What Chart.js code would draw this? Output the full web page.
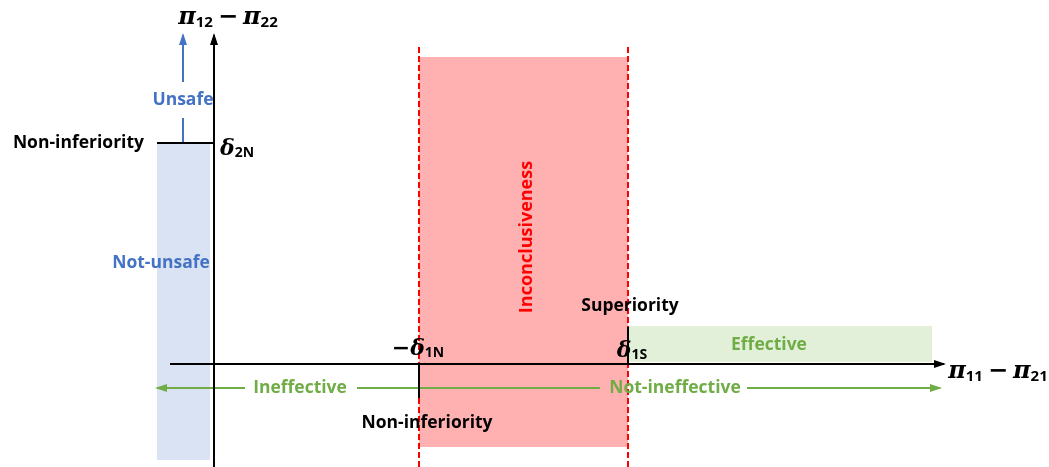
<!DOCTYPE html>
<html lang="en">
<head>
<meta charset="UTF-8">
<title>Decision regions</title>
<script src="https://cdn.jsdelivr.net/npm/chart.js@4.4.1/dist/chart.umd.min.js"></script>
<style>
  body { margin: 0; background: #fff; }
  #wrap { width: 1049px; height: 467px; }
</style>
</head>
<body>
<div id="wrap"><canvas id="diagram" width="1049" height="467"></canvas></div>
<script>
// margins on each axis (units along the difference axes, origin = 0)
const marginX = [2.05, 4.14];          // -delta1N , delta1S
const marginY = [2.21];                // delta2N
const axisXRange = [-0.44, 7.30];
const axisYRange = [-1.03, 3.29];

// shaded regions
const regionNames = ['Not-unsafe', 'Inconclusiveness', 'Effective'];
const regionX = [[-0.57, -0.04], [2.05, 4.14], [4.14, 7.18]];
const regionY = [[-0.96, 2.21], [-0.83, 3.07], [0.02, 0.38]];

// decision arrows below the x axis (ineffective / not-ineffective)
const greenArrowY = -0.24;
const ineffectiveX = [0.31, -0.57];
const notIneffLineX = [1.43, 3.86];
const notIneffArrowX = [5.33, 7.26];
// unsafe arrow above delta2N
const unsafeX = -0.31;
const unsafeLowY = [2.21, 2.46];
const unsafeHighY = [2.82, 3.29];

const BLUE = '#4472c4', GREEN = '#70ad47', RED = '#ff0000';

function seg(x0, y0, x1, y1) { return [{x: x0, y: y0}, {x: x1, y: y1}]; }

function lineSet(data, color, width, extra) {
  return Object.assign({
    data: data, showLine: true, borderColor: color, borderWidth: width,
    pointRadius: 0, fill: false, order: 0
  }, extra || {});
}

function regionSet(i, color) {
  return {
    label: regionNames[i],
    data: seg(regionX[i][0], regionY[i][1], regionX[i][1], regionY[i][1]),
    showLine: true, borderWidth: 0, borderColor: 'rgba(0,0,0,0)',
    backgroundColor: color, pointRadius: 0,
    fill: {value: regionY[i][0]}, order: 10
  };
}

// arrow heads on datasets flagged with arrow:true
const arrowHeads = {
  id: 'arrowHeads',
  afterDatasetsDraw(chart) {
    const ctx = chart.ctx;
    chart.data.datasets.forEach((ds, i) => {
      if (!ds.arrow) return;
      const pts = chart.getDatasetMeta(i).data;
      const a = pts[pts.length - 2], b = pts[pts.length - 1];
      const ang = Math.atan2(b.y - a.y, b.x - a.x);
      const len = 10, half = 4;
      ctx.save();
      ctx.translate(b.x, b.y);
      ctx.rotate(ang);
      ctx.fillStyle = ds.borderColor;
      ctx.beginPath();
      ctx.moveTo(2, 0);
      ctx.lineTo(-len, -half);
      ctx.lineTo(-len, half);
      ctx.closePath();
      ctx.fill();
      ctx.restore();
    });
  }
};

// text: plain labels + math labels with subscripts
const textPlugin = {
  id: 'textLabels',
  afterDatasetsDraw(chart, args, opts) {
    const ctx = chart.ctx, sx = chart.scales.x, sy = chart.scales.y;
    const sans = '"Open Sans", "Noto Sans", sans-serif';
    const serif = '"DejaVu Serif", serif';
    ctx.save();
    ctx.textBaseline = 'middle';
    opts.plain.forEach(l => {
      ctx.save();
      ctx.translate(sx.getPixelForValue(l.x), sy.getPixelForValue(l.y));
      if (l.rot) ctx.rotate(l.rot);
      ctx.font = 'bold ' + (l.size || 17.5) + 'px ' + sans;
      ctx.fillStyle = l.color || '#000';
      ctx.textAlign = l.align || 'center';
      ctx.fillText(l.text, 0, 0);
      ctx.restore();
    });
    opts.math.forEach(m => {
      const fontOf = p => p.sub ? 'bold ' + Math.round(m.size * 0.62) + 'px ' + sans
        : p.op ? 'bold ' + m.size + 'px ' + serif
        : 'italic bold ' + m.size + 'px ' + serif;
      const gap = p => p.gap || 0;
      let w = 0;
      m.parts.forEach(p => {
        ctx.font = fontOf(p);
        w += ctx.measureText(p.t).width + 2 * gap(p);
      });
      let px = sx.getPixelForValue(m.x);
      if (m.align !== 'left') px -= w / 2;
      const py = sy.getPixelForValue(m.y);
      ctx.fillStyle = '#000';
      ctx.textAlign = 'left';
      m.parts.forEach(p => {
        ctx.font = fontOf(p);
        ctx.fillText(p.t, px + gap(p), py + (p.sub ? m.size * 0.2 : 0));
        px += ctx.measureText(p.t).width + 2 * gap(p);
      });
    });
    ctx.restore();
  }
};

const datasets = [
  regionSet(0, 'rgb(218,227,243)'),
  regionSet(1, 'rgb(255,176,176)'),
  regionSet(2, 'rgb(226,240,217)'),
  // axes
  lineSet(seg(axisXRange[0], 0, axisXRange[1], 0), '#000', 2, {arrow: true}),
  lineSet(seg(0, axisYRange[0], 0, axisYRange[1]), '#000', 2, {arrow: true}),
  // margin ticks
  lineSet(seg(regionX[0][0], marginY[0], 0, marginY[0]), '#000', 2),
  lineSet(seg(marginX[0], 0, marginX[0], -0.34), '#000', 2),
  lineSet(seg(marginX[1], 0, marginX[1], 0.37), '#000', 2),
  // red dashed boundaries
  lineSet(seg(marginX[0], axisYRange[0], marginX[0], 3.19), RED, 2, {borderDash: [6, 3], order: 5}),
  lineSet(seg(marginX[1], axisYRange[0], marginX[1], 3.19), RED, 2, {borderDash: [6, 3], order: 5}),
  // green decision arrows
  lineSet(seg(ineffectiveX[0], greenArrowY, ineffectiveX[1], greenArrowY), GREEN, 2, {arrow: true}),
  lineSet(seg(notIneffLineX[0], greenArrowY, notIneffLineX[1], greenArrowY), GREEN, 2),
  lineSet(seg(notIneffArrowX[0], greenArrowY, notIneffArrowX[1], greenArrowY), GREEN, 2, {arrow: true}),
  // blue unsafe arrow
  lineSet(seg(unsafeX, unsafeLowY[0], unsafeX, unsafeLowY[1]), BLUE, 2),
  lineSet(seg(unsafeX, unsafeHighY[0], unsafeX, unsafeHighY[1]), BLUE, 2, {arrow: true})
];

new Chart(document.getElementById('diagram'), {
  type: 'scatter',
  data: {datasets: datasets},
  options: {
    responsive: false,
    animation: false,
    layout: {padding: 0},
    scales: {
      x: {type: 'linear', min: -2.14, max: 8.35, display: false},
      y: {type: 'linear', min: -1.03, max: 3.64, display: false}
    },
    plugins: {
      legend: {display: false},
      tooltip: {enabled: false},
      textLabels: {
        plain: [
          {text: 'Unsafe', x: unsafeX, y: 2.64, color: BLUE},
          {text: 'Non-inferiority', x: -0.70, y: marginY[0], align: 'right'},
          {text: regionNames[0], x: -0.53, y: 1.01, color: BLUE},
          {text: regionNames[1], x: 3.13, y: 1.27, color: RED, rot: -Math.PI / 2, size: 18},
          {text: regionNames[2], x: 5.55, y: 0.19, color: GREEN},
          {text: 'Superiority', x: 4.16, y: 0.58},
          {text: 'Non-inferiority', x: 2.13, y: -0.59},
          {text: 'Ineffective', x: 0.86, y: greenArrowY, color: GREEN},
          {text: 'Not-ineffective', x: 4.61, y: greenArrowY, color: GREEN}
        ],
        math: [
          {x: 0.14, y: 3.46, size: 24, parts: [{t: 'π'}, {t: '12', sub: true}, {t: '−', op: true, gap: 5}, {t: 'π'}, {t: '22', sub: true}]},
          {x: 7.84, y: -0.08, size: 24, parts: [{t: 'π'}, {t: '11', sub: true}, {t: '−', op: true, gap: 5}, {t: 'π'}, {t: '21', sub: true}]},
          {x: 0.06, y: 2.15, size: 22, align: 'left', parts: [{t: 'δ'}, {t: '2N', sub: true}]},
          {x: 2.04, y: 0.15, size: 22, parts: [{t: '−', op: true}, {t: 'δ'}, {t: '1N', sub: true}]},
          {x: 4.18, y: 0.13, size: 22, parts: [{t: 'δ'}, {t: '1S', sub: true}]}
        ]
      }
    }
  },
  plugins: [arrowHeads, textPlugin]
});
</script>
</body>
</html>
